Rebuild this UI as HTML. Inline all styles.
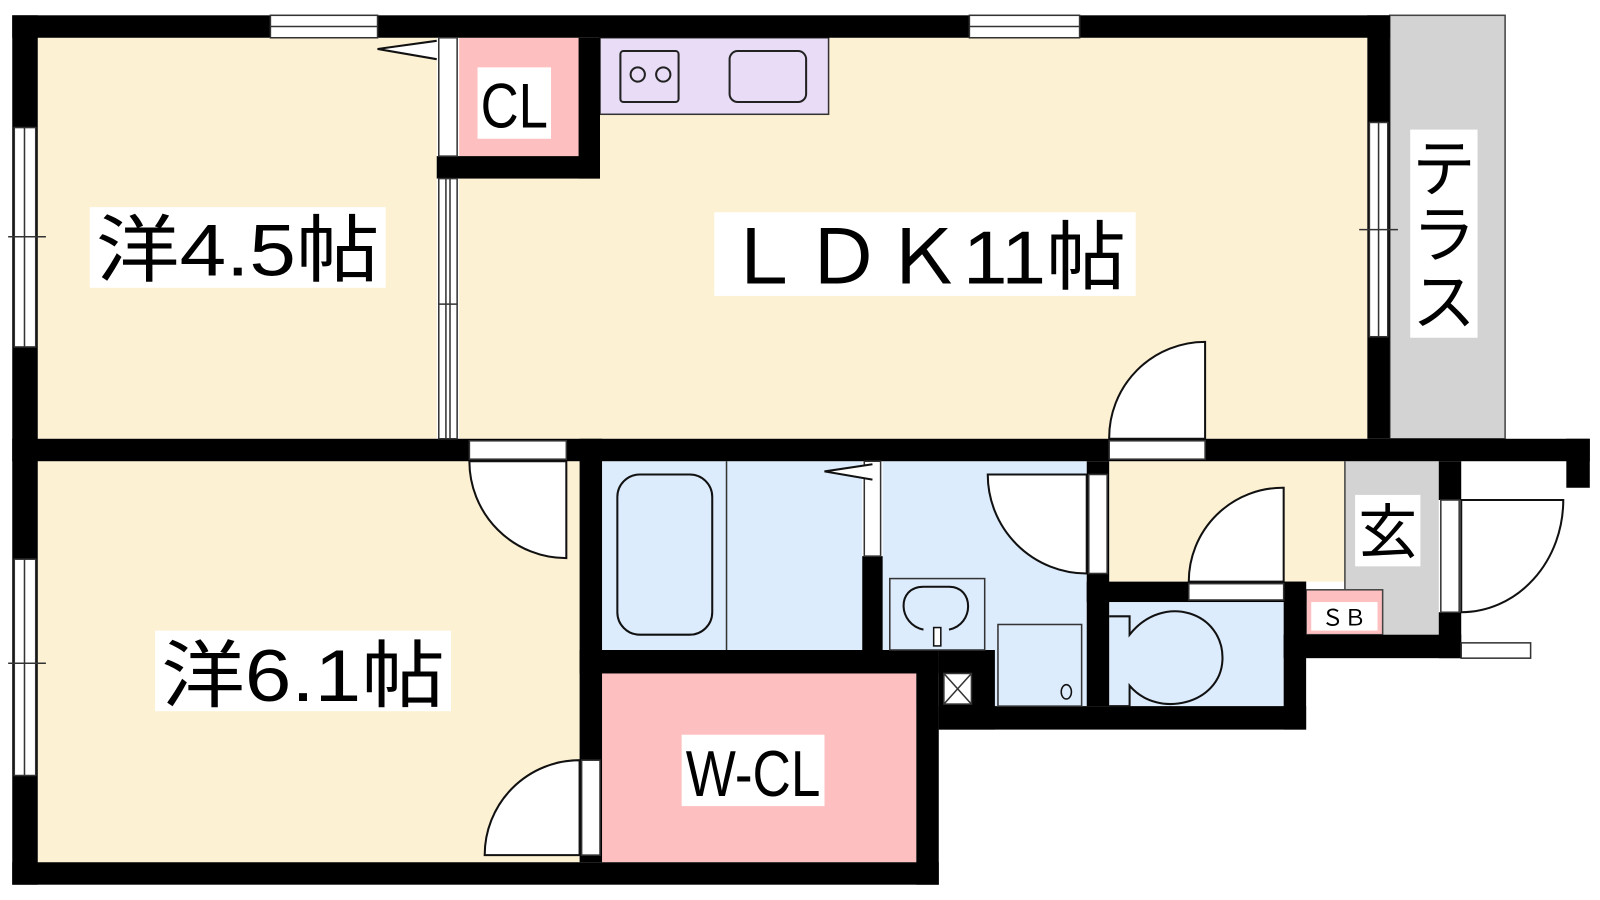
<!DOCTYPE html>
<html><head><meta charset="utf-8"><style>
html,body{margin:0;padding:0;background:#fff;}
svg{display:block}
text{font-family:"Liberation Sans","Noto Sans CJK JP",sans-serif;}
</style></head><body>
<svg width="1600" height="900" viewBox="0 0 1568 882" xmlns="http://www.w3.org/2000/svg">
<rect width="1568" height="882" fill="#fff"/>
<!-- room fills -->
<rect x="37" y="37" width="391" height="393" fill="#fdf1d3"/>
<rect x="450" y="37" width="890" height="393" fill="#fdf1d3"/>
<rect x="450" y="37" width="117" height="116" fill="#fdbfbf"/>
<rect x="1362" y="15" width="113" height="415" fill="#d3d3d3" stroke="#444" stroke-width="1.5"/>
<rect x="37" y="452" width="531" height="393" fill="#fdf1d3"/>
<rect x="590" y="452" width="255" height="185" fill="#dcecfd"/>
<rect x="865" y="452" width="200" height="240" fill="#dcecfd"/>
<rect x="590" y="660" width="308" height="185" fill="#fdbfbf"/>
<rect x="1087" y="452" width="231" height="118" fill="#fdf1d3"/>
<rect x="1087" y="590" width="171" height="102" fill="#dcecfd"/>
<rect x="1318" y="452" width="92" height="170" fill="#d3d3d3"/>
<line x1="1318" y1="452" x2="1318" y2="590" stroke="#444" stroke-width="1.5"/>
<rect x="1280" y="578" width="75" height="44" fill="#fdbfbf" stroke="#444" stroke-width="1.5"/>
<!-- kitchen -->
<rect x="588" y="37" width="224" height="75" fill="#e9dcf7" stroke="#333" stroke-width="1.5"/>
<rect x="608" y="50" width="57" height="50" fill="none" stroke="#222" stroke-width="2" rx="3"/>
<circle cx="625" cy="73" r="7" fill="none" stroke="#222" stroke-width="2"/>
<circle cx="650" cy="73" r="7" fill="none" stroke="#222" stroke-width="2"/>
<rect x="715" y="50" width="75" height="50" fill="none" stroke="#222" stroke-width="2" rx="8"/>
<!-- walls -->
<g fill="#000">
<rect x="12" y="15" width="1350" height="22"/>
<rect x="12" y="15" width="25" height="852"/>
<rect x="1340" y="15" width="22" height="415"/>
<rect x="12" y="430" width="1546" height="22"/>
<rect x="1535" y="430" width="23" height="48"/>
<rect x="428" y="153" width="160" height="22"/>
<rect x="567" y="37" width="21" height="138"/>
<rect x="568" y="430" width="22" height="415"/>
<rect x="568" y="637" width="352" height="23"/>
<rect x="898" y="637" width="22" height="230"/>
<rect x="12" y="845" width="908" height="22"/>
<rect x="845" y="545" width="20" height="92"/>
<rect x="920" y="692" width="360" height="23"/>
<rect x="920" y="637" width="55" height="78"/>
<rect x="1065" y="452" width="22" height="240"/>
<rect x="1065" y="570" width="215" height="20"/>
<rect x="1258" y="570" width="22" height="145"/>
<rect x="1258" y="622" width="174" height="23"/>
<rect x="1410" y="452" width="22" height="38"/>
<rect x="1410" y="600" width="22" height="45"/>
</g>
<!-- windows / door openings -->
<g fill="#fff" stroke="#333" stroke-width="1.5">
<rect x="265" y="15" width="105" height="22"/><line x1="265" y1="26" x2="370" y2="26"/>
<rect x="950" y="15" width="108" height="22"/><line x1="950" y1="26" x2="1058" y2="26"/>
<rect x="14" y="125" width="21" height="215"/><line x1="24" y1="125" x2="24" y2="340"/>
<rect x="14" y="548" width="21" height="212"/><line x1="24" y1="548" x2="24" y2="760"/>
<rect x="1342" y="120" width="18" height="210"/><line x1="1351" y1="120" x2="1351" y2="330"/>
<rect x="430" y="37" width="18" height="116"/>
<rect x="430" y="175" width="18" height="255"/><line x1="437" y1="175" x2="437" y2="430"/><line x1="441" y1="175" x2="441" y2="430"/>
<rect x="460" y="432" width="95" height="18"/>
<rect x="1087" y="432" width="94" height="18"/>
<rect x="847" y="452" width="16" height="93"/>
<rect x="1067" y="465" width="18" height="97"/>
<rect x="1165" y="572" width="93" height="16"/>
<rect x="1412" y="490" width="18" height="110"/>
<rect x="570" y="745" width="18" height="93"/>
<rect x="1432" y="630" width="68" height="15"/>
<rect x="925" y="660" width="27" height="30"/>
</g>
<g stroke="#333" stroke-width="1.5">
<line x1="925" y1="660" x2="952" y2="690"/><line x1="952" y1="660" x2="925" y2="690"/>
<line x1="8" y1="232" x2="45" y2="232"/><line x1="8" y1="650" x2="45" y2="650"/>
<line x1="1332" y1="225" x2="1370" y2="225"/><line x1="430" y1="298" x2="448" y2="298"/>
</g>
<!-- doors -->
<g fill="#fff" stroke="#111" stroke-width="2">
<path d="M555,452 L555,547 A95,95 0 0 1 460,452 Z"/>
<path d="M1181,430 L1181,335 A94,94 0 0 0 1087,430 Z"/>
<path d="M1065,465 L968,465 A97,97 0 0 0 1065,562 Z"/>
<path d="M1258,570 L1258,478 A92,92 0 0 0 1165,570 Z"/>
<path d="M1432,490 L1532,490 A100,110 0 0 1 1432,600 Z"/>
<path d="M568,838 L568,745 A93,93 0 0 0 475,838 Z"/>
<path d="M428,40 L370,48 L428,58"/>
<path d="M855,455 L808,462 L855,470"/>
</g>
<!-- bath / fixtures -->
<line x1="712" y1="452" x2="712" y2="637" stroke="#333" stroke-width="1.5"/>
<rect x="605" y="465" width="93" height="157" rx="22" fill="none" stroke="#111" stroke-width="2"/>
<rect x="872" y="567" width="93" height="70" fill="none" stroke="#333" stroke-width="1.5"/>
<path d="M905,617 C880,612 878,575 905,575 L930,575 C955,575 955,612 930,617" fill="none" stroke="#111" stroke-width="2"/>
<rect x="915" y="615" width="7" height="18" fill="#fff" stroke="#111" stroke-width="1.5"/>
<rect x="978" y="612" width="82" height="80" fill="none" stroke="#333" stroke-width="1.5"/>
<ellipse cx="1045" cy="678" rx="5" ry="7" fill="none" stroke="#111" stroke-width="1.5"/>
<path d="M1087,604 L1107,604 L1107,622 C1140,580 1200,600 1198,647 C1196,690 1135,705 1107,672 L1107,692 L1087,692" fill="none" stroke="#111" stroke-width="2"/>
<!-- labels -->
<rect x="88" y="203" width="290" height="79" fill="#fff"/>
<text x="233" y="270" font-size="72" text-anchor="middle" textLength="278" lengthAdjust="spacingAndGlyphs">洋4.5帖</text>
<rect x="700" y="208" width="413" height="82" fill="#fff"/>
<text x="906" y="278" font-size="74" text-anchor="middle" textLength="395" lengthAdjust="spacingAndGlyphs">ＬＤＫ11帖</text>
<rect x="152" y="618" width="290" height="79" fill="#fff"/>
<text x="297" y="687" font-size="72" text-anchor="middle" textLength="278" lengthAdjust="spacingAndGlyphs">洋6.1帖</text>
<rect x="668" y="720" width="140" height="70" fill="#fff"/>
<text x="738" y="780" font-size="64" text-anchor="middle" textLength="132" lengthAdjust="spacingAndGlyphs">W-CL</text>
<rect x="468" y="66" width="72" height="70" fill="#fff"/>
<text x="504" y="125" font-size="62" text-anchor="middle" textLength="66" lengthAdjust="spacingAndGlyphs">CL</text>
<rect x="1382" y="127" width="66" height="204" fill="#fff"/>
<text x="1415" y="187" font-size="62" text-anchor="middle">テ</text>
<text x="1415" y="252" font-size="62" text-anchor="middle">ラ</text>
<text x="1415" y="318" font-size="62" text-anchor="middle">ス</text>
<rect x="1328" y="485" width="64" height="70" fill="#fff"/>
<text x="1360" y="542" font-size="58" text-anchor="middle">玄</text>
<rect x="1285" y="590" width="65" height="28" fill="#fff"/>
<text x="1317" y="613" font-size="22" text-anchor="middle">ＳＢ</text>
</svg>
</body></html>
